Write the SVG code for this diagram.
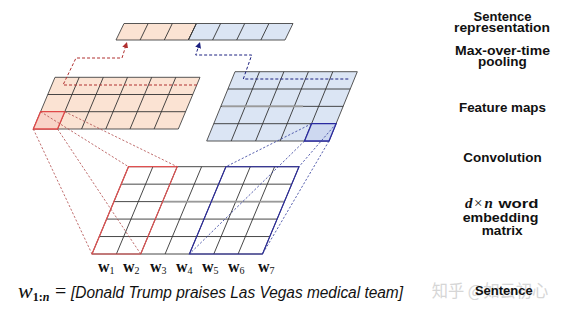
<svg xmlns="http://www.w3.org/2000/svg" width="565" height="312" viewBox="0 0 565 312">
<style>
.grid{fill:none;stroke:#333;stroke-width:0.9}
.peach{fill:#fbe3d3;stroke:#444;stroke-width:0.9}
.blue{fill:#dbe5f4;stroke:#444;stroke-width:0.9}
.rdash{fill:none;stroke:#b04a4a;stroke-width:0.8;stroke-dasharray:2.2 1.8}
.bdash{fill:none;stroke:#2f3a9a;stroke-width:0.8;stroke-dasharray:2.2 1.8}
.rarrow{fill:none;stroke:#b03030;stroke-width:1;stroke-dasharray:3 2}
.barrow{fill:none;stroke:#1c2080;stroke-width:1;stroke-dasharray:3 2}
.gray{stroke:#9a9a9a;stroke-width:1.8}
.lbl{font-family:"Liberation Sans",Arial,sans-serif;font-weight:bold;font-size:13px;fill:#111;text-anchor:middle}
.w{font-family:"Liberation Serif","DejaVu Serif",serif;font-weight:bold;font-size:16px;fill:#111}
.sub{font-size:10px;font-weight:normal}
</style>
<defs>
<marker id="ahr" markerWidth="6" markerHeight="6" refX="5" refY="3" orient="auto" markerUnits="userSpaceOnUse">
<path d="M0,0 L6,3 L0,6 Z" fill="#b03030"/>
</marker>
<marker id="ahb" markerWidth="6" markerHeight="6" refX="5" refY="3" orient="auto" markerUnits="userSpaceOnUse">
<path d="M0,0 L6,3 L0,6 Z" fill="#1c2080"/>
</marker>
</defs>

<g id="sentence-representation">
<polygon class="peach" points="124,23.5 196.4,23.5 188.4,40 116,40"/>
<polygon class="blue" points="196.4,23.5 293,23.5 285,40 188.4,40"/>
<path class="grid" d="M148.1,23.5L140.1,40M172.3,23.5L164.3,40M196.4,23.5L188.4,40M220.6,23.5L212.6,40M244.7,23.5L236.7,40M268.9,23.5L260.9,40"/>
</g>

<g id="feature-map-red">
<polygon class="peach" points="55,77.3 200,77.3 178.3,129 33.3,129"/>
<path class="grid" d="M79.2,77.3L57.5,129M103.3,77.3L81.6,129M127.5,77.3L105.8,129M151.7,77.3L130,129M175.8,77.3L154.1,129M47.8,94.5H192.8M40.6,111.7H185.6"/>
<polygon points="40.6,111.7 64.8,111.7 57.5,129 33.3,129" fill="#f9d3c8" stroke="#e04848" stroke-width="1.3"/>
</g>

<g id="feature-map-blue">
<polygon class="blue" points="235,71.7 357.3,71.7 329,141 206.7,141"/>
<path class="grid" d="M259.5,71.7L231.2,141M283.9,71.7L255.6,141M308.4,71.7L280.1,141M332.8,71.7L304.5,141M227.9,89H350.2M220.9,106.35H343.2M213.8,123.7H336.1"/>
<line class="gray" x1="222" y1="106.35" x2="303" y2="106.35"/>
<polygon points="311.6,123.7 336.1,123.7 329,141 304.5,141" fill="#cdd8f0" stroke="#2a2aa0" stroke-width="1.3"/>
</g>

<g id="embedding-matrix">
<polygon points="128.5,166.7 299,166.7 262.5,254 92,254" fill="#fff" stroke="#333" stroke-width="0.9"/>
<path class="grid" d="M152.9,166.7L116.4,254M177.2,166.7L140.7,254M201.6,166.7L165.1,254M225.9,166.7L189.4,254M250.3,166.7L213.8,254M274.6,166.7L238.1,254M121.2,184.16H291.7M113.9,201.62H284.4M106.6,219.08H277.1M99.3,236.54H269.8"/>
<line class="gray" x1="163" y1="201.62" x2="284" y2="201.62"/>
<polygon points="128.5,166.7 177.2,166.7 140.7,254 92,254" fill="none" stroke="#e05050" stroke-width="1.2"/>
<polygon points="225.9,166.7 299,166.7 262.5,254 189.4,254" fill="none" stroke="#2a2aa0" stroke-width="1.1"/>
</g>

<g id="connectors">
<path class="rdash" d="M40.6,111.7L128.5,166.7M64.8,111.7L177.2,166.7M57.5,129L140.7,254M33.3,129L92,254"/>
<path class="bdash" d="M311.6,123.7L225.9,166.7M336.1,123.7L299,166.7M329,141L262.5,254M304.5,141L189.4,254"/>
<path class="rarrow" d="M197,85H63L76,58H122L126.7,43" marker-end="url(#ahr)"/>
<path class="barrow" d="M348.3,79H243.3L251.7,55H195.7L199.7,43" marker-end="url(#ahb)"/>
</g>

<g id="word-labels">
<text class="w" x="98" y="272">w<tspan class="sub" dy="2">1</tspan></text>
<text class="w" x="123" y="272">w<tspan class="sub" dy="2">2</tspan></text>
<text class="w" x="150" y="272">w<tspan class="sub" dy="2">3</tspan></text>
<text class="w" x="176" y="272">w<tspan class="sub" dy="2">4</tspan></text>
<text class="w" x="202" y="272">w<tspan class="sub" dy="2">5</tspan></text>
<text class="w" x="228" y="272">w<tspan class="sub" dy="2">6</tspan></text>
<text class="w" x="258" y="272">w<tspan class="sub" dy="2">7</tspan></text>
</g>

<g id="sentence-line" fill="#111">
<text x="18" y="298" font-family="Liberation Serif,serif" font-size="22"><tspan font-style="italic">w</tspan><tspan font-size="12" font-weight="bold" dy="3">1:<tspan font-style="italic">n</tspan></tspan></text>
<text x="55" y="298" font-family="Liberation Serif,serif" font-size="20">=</text>
<text x="71" y="297.5" font-family="Liberation Sans,Arial,sans-serif" font-style="italic" font-size="16" textLength="332" lengthAdjust="spacingAndGlyphs">[Donald Trump praises Las Vegas medical team]</text>
</g>

<g id="right-labels">
<text class="lbl" x="502.5" y="20.7" textLength="58" lengthAdjust="spacingAndGlyphs">Sentence</text>
<text class="lbl" x="502" y="32.3" textLength="96" lengthAdjust="spacingAndGlyphs">representation</text>
<text class="lbl" x="502.5" y="55" textLength="95" lengthAdjust="spacingAndGlyphs">Max-over-time</text>
<text class="lbl" x="502.3" y="65.7" textLength="48.7" lengthAdjust="spacingAndGlyphs">pooling</text>
<text class="lbl" x="502.5" y="112.3" textLength="87" lengthAdjust="spacingAndGlyphs">Feature maps</text>
<text class="lbl" x="502.5" y="162.3" textLength="78.3" lengthAdjust="spacingAndGlyphs">Convolution</text>
<text x="465" y="208.3" font-size="15" fill="#111" font-family="Liberation Serif,serif"><tspan font-style="italic" font-weight="bold">d</tspan><tspan x="474">×</tspan><tspan font-style="italic" font-weight="bold" x="484.5">n</tspan></text>
<text x="498.5" y="208.3" font-size="13.5" fill="#111" font-family="Liberation Sans,Arial,sans-serif" font-weight="bold" textLength="40" lengthAdjust="spacingAndGlyphs">word</text>
<text class="lbl" x="500.5" y="221.7" textLength="75.7" lengthAdjust="spacingAndGlyphs">embedding</text>
<text class="lbl" x="502.2" y="235" textLength="41" lengthAdjust="spacingAndGlyphs">matrix</text>
<text x="431.7" y="296.5" font-family="Noto Sans CJK SC,sans-serif" font-size="17" fill="#d6d6d6" textLength="116.6" lengthAdjust="spacingAndGlyphs">知乎 @如云初心</text>
<text class="lbl" x="503.8" y="295" textLength="57.7" lengthAdjust="spacingAndGlyphs">Sentence</text>
</g>
</svg>
